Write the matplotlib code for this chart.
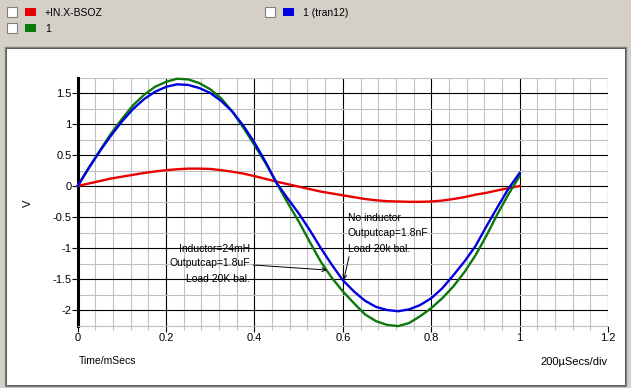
import matplotlib
matplotlib.use("Agg")
import matplotlib.pyplot as plt
from matplotlib.patches import Rectangle
from matplotlib.ticker import MultipleLocator

# ---- data ----
t = [0.000, 0.025, 0.050, 0.075, 0.100, 0.125, 0.150, 0.175, 0.200, 0.225,
     0.250, 0.275, 0.300, 0.325, 0.350, 0.375, 0.400, 0.425, 0.450, 0.475,
     0.500, 0.525, 0.550, 0.575, 0.600, 0.625, 0.650, 0.675, 0.700, 0.725,
     0.750, 0.775, 0.800, 0.825, 0.850, 0.875, 0.900, 0.925, 0.950, 0.975,
     1.000]

v_in = [0.00, 0.04, 0.08, 0.12, 0.15, 0.18, 0.21, 0.235, 0.255, 0.27,
        0.28, 0.28, 0.275, 0.255, 0.23, 0.20, 0.16, 0.115, 0.07, 0.03,
        -0.01, -0.05, -0.09, -0.12, -0.15, -0.18, -0.21, -0.23, -0.245, -0.25,
        -0.255, -0.255, -0.25, -0.235, -0.21, -0.18, -0.14, -0.11, -0.07, -0.035,
        0.00]

v_green = [0.00, 0.29, 0.57, 0.84, 1.08, 1.30, 1.47, 1.60, 1.68, 1.73,
           1.72, 1.66, 1.56, 1.41, 1.20, 0.94, 0.66, 0.37, 0.05, -0.27,
           -0.57, -0.90, -1.22, -1.48, -1.70, -1.89, -2.07, -2.18, -2.24, -2.26,
           -2.21, -2.10, -1.97, -1.81, -1.62, -1.39, -1.12, -0.80, -0.45, -0.13,
           0.16]

v_blue = [0.00, 0.29, 0.56, 0.81, 1.04, 1.24, 1.40, 1.52, 1.60, 1.64,
          1.63, 1.58, 1.50, 1.37, 1.20, 0.97, 0.70, 0.39, 0.05, -0.20,
          -0.44, -0.71, -1.00, -1.27, -1.52, -1.70, -1.85, -1.95, -2.00, -2.02,
          -1.99, -1.92, -1.81, -1.65, -1.44, -1.22, -0.97, -0.65, -0.34, -0.04,
          0.21]

series_names = ["+IN.X-BSOZ", "1", "1 (tran12)"]
series_colors = ["#e80000", "#0a780a", "#0000e0"]

x_ticks = [0, 0.2, 0.4, 0.6, 0.8, 1.0, 1.2]
x_tick_labels = ["0", "0.2", "0.4", "0.6", "0.8", "1", "1.2"]
y_ticks = [-2, -1.5, -1, -0.5, 0, 0.5, 1, 1.5]
y_tick_labels = ["-2", "-1.5", "-1", "-0.5", "0", "0.5", "1", "1.5"]

W, H = 631, 388
FONT = ["Liberation Sans"]
fig = plt.figure(figsize=(W / 100, H / 100), dpi=100)
fig.patch.set_facecolor("#d4d0c8")

def fx(px):
    return px / W

def fy(py):
    return 1 - py / H

# white plot panel with sunken border
fig.patches.append(Rectangle((fx(5), fy(386)), fx(621), (386 - 47) / H,
                             transform=fig.transFigure, facecolor="white",
                             edgecolor="#808080", lw=1.0, zorder=-10))
fig.patches.append(Rectangle((fx(6), fy(385)), fx(619), (385 - 48) / H,
                             transform=fig.transFigure, facecolor="none",
                             edgecolor="#404040", lw=0.6, zorder=-9))

# legend area
def checkbox(px, py):
    fig.patches.append(Rectangle((fx(px), fy(py + 10)), fx(10), 10 / H,
                                 transform=fig.transFigure, facecolor="white",
                                 edgecolor="#808080", lw=0.8, zorder=-5))

def swatch(px, py, color):
    fig.patches.append(Rectangle((fx(px), fy(py + 8)), fx(11), 8 / H,
                                 transform=fig.transFigure, facecolor=color,
                                 edgecolor="none", zorder=-5))

legend_pos = [(7, 7), (7, 23), (265, 7)]
for (px, py), name, col in zip(legend_pos, series_names, series_colors):
    checkbox(px, py)
    swatch(px + 18, py + 1, col)
    fig.text(fx(px + 38), fy(py + 6), name, fontsize=7.5, family=FONT,
             va="center", ha="left", color="black")

# axes
ax = fig.add_axes([fx(77.7), fy(325.5), fx(608 - 77.7), (325.5 - 77.5) / H])
ax.set_zorder(1)
ax.set_facecolor("white")
ax.set_xlim(0, 1.2)
ax.set_ylim(-2.25, 1.75)

ax.xaxis.set_minor_locator(MultipleLocator(0.04))
ax.yaxis.set_minor_locator(MultipleLocator(0.25))
ax.set_xticks(x_ticks)
ax.set_xticklabels(x_tick_labels)
ax.set_yticks(y_ticks)
ax.set_yticklabels(y_tick_labels)

ax.grid(which="minor", color="#c0c0c0", lw=0.8)
ax.grid(which="major", color="black", lw=0.8)
ax.set_axisbelow(True)

for s in ["top", "right"]:
    ax.spines[s].set_visible(False)
ax.spines["bottom"].set_color("#c0c0c0")
ax.spines["bottom"].set_linewidth(0.8)
ax.spines["left"].set_color("black")
ax.spines["left"].set_linewidth(2.2)

ax.tick_params(axis="x", which="major", length=4, width=0.8, color="black",
               labelsize=8, pad=1.5)
ax.tick_params(axis="y", which="major", length=4, width=0.8, color="black",
               labelsize=8, pad=0.5)
ax.tick_params(axis="x", which="minor", length=3, width=0.8, color="#c0c0c0")
ax.tick_params(axis="y", which="minor", length=0)
for lab in ax.get_xticklabels() + ax.get_yticklabels():
    lab.set_family(FONT)

ax.plot(t, v_in, color=series_colors[0], lw=1.7, zorder=3, clip_on=False)
ax.plot(t, v_green, color=series_colors[1], lw=1.7, zorder=4, clip_on=False)
ax.plot(t, v_blue, color=series_colors[2], lw=1.7, zorder=5, clip_on=False)

# annotations
fs = 7.5
ax.text(0.611, -0.516, "No inductor", fontsize=fs, family=FONT, va="center", ha="left")
ax.text(0.611, -0.758, "Outputcap=1.8nF", fontsize=fs, family=FONT, va="center", ha="left")
ax.text(0.611, -1.016, "Load 20k bal.", fontsize=fs, family=FONT, va="center", ha="left")
ax.annotate("", xy=(0.602, -1.516), xytext=(0.614, -1.14),
            arrowprops=dict(arrowstyle="->", color="black", lw=0.7,
                            mutation_scale=7, shrinkA=0, shrinkB=0), zorder=6)

ax.text(0.39, -1.016, "Inductor=24mH", fontsize=fs, family=FONT, va="center", ha="right")
ax.text(0.39, -1.25, "Outputcap=1.8uF", fontsize=fs, family=FONT, va="center", ha="right")
ax.text(0.39, -1.50, "Load 20K bal.", fontsize=fs, family=FONT, va="center", ha="right")
ax.annotate("", xy=(0.564, -1.355), xytext=(0.397, -1.274),
            arrowprops=dict(arrowstyle="->", color="black", lw=0.7,
                            mutation_scale=7, shrinkA=0, shrinkB=0), zorder=6)

# axis labels as in the reference
fig.text(fx(28), fy(203), "V", fontsize=8, family=FONT, rotation=90,
         va="center", ha="center")
fig.text(fx(79), fy(361), "Time/mSecs", fontsize=7.5, family=FONT,
         va="center", ha="left")
fig.text(fx(608), fy(362), "200\u00b5Secs/div", fontsize=8, family=FONT,
         va="center", ha="right")

fig.savefig("out.png", dpi=100, facecolor=fig.get_facecolor())
